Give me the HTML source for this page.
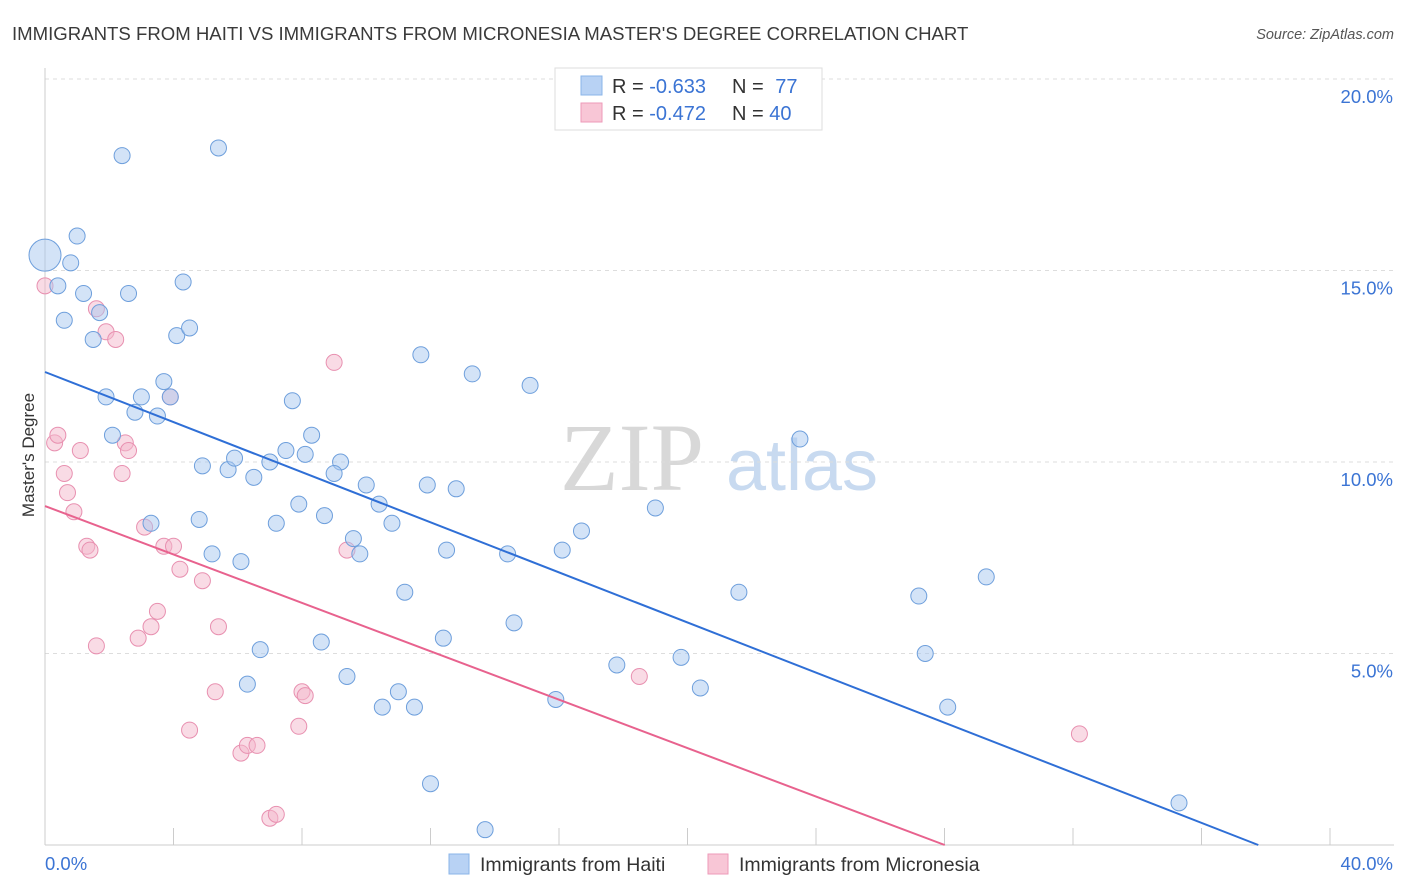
<!DOCTYPE html>
<html><head><meta charset="utf-8">
<style>
body{margin:0;background:#fff;font-family:"Liberation Sans",sans-serif;}
svg{display:block}
</style></head>
<body>
<svg id="chart" width="1406" height="892" xmlns="http://www.w3.org/2000/svg">
<text x="12" y="40" font-size="18.6" fill="#3a3a3a">IMMIGRANTS FROM HAITI VS IMMIGRANTS FROM MICRONESIA MASTER'S DEGREE CORRELATION CHART</text>
<text x="1394" y="39" font-size="14.5" fill="#555" font-style="italic" text-anchor="end">Source: ZipAtlas.com</text>
<g>
<text x="632" y="490" font-size="96" fill="#d8d8d8" font-family="Liberation Serif,serif" text-anchor="middle">ZIP</text>
<text x="802" y="490" font-size="72" fill="#c8daf0" text-anchor="middle">atlas</text>
</g>
<g id="grid"></g>
<g id="axes"></g>
<g id="points"></g>
<g id="lines"></g>
<text transform="translate(34,455) rotate(-90)" font-size="17" fill="#333" text-anchor="middle">Master's Degree</text>
<g>
<rect x="555" y="68" width="267" height="62" fill="#fff" stroke="#ddd"/>
<rect x="581" y="76" width="21" height="19" fill="#b8d2f4" stroke="#8ab4e8"/>
<rect x="581" y="103" width="21" height="19" fill="#f8c6d6" stroke="#ee9ab8"/>
<text x="612" y="93" font-size="20" fill="#333">R = <tspan fill="#3b74d4">-0.633</tspan></text>
<text x="732" y="93" font-size="20" fill="#333">N = <tspan fill="#3b74d4" dx="6">77</tspan></text>
<text x="612" y="120" font-size="20" fill="#333">R = <tspan fill="#3b74d4">-0.472</tspan></text>
<text x="732" y="120" font-size="20" fill="#333">N = <tspan fill="#3b74d4">40</tspan></text>
</g>
<g>
<rect x="449" y="854" width="20" height="20" fill="#b8d2f4" stroke="#8ab4e8"/>
<text x="480" y="871" font-size="19.5" fill="#333">Immigrants from Haiti</text>
<rect x="708" y="854" width="20" height="20" fill="#f8c6d6" stroke="#ee9ab8"/>
<text x="739" y="871" font-size="19.5" fill="#333">Immigrants from Micronesia</text>
</g>
</svg>
<script>
const haitiX=[0.0,2.4,5.4,1.0,0.8,0.4,1.2,2.6,4.3,0.6,1.7,1.5,4.1,4.5,3.7,1.9,3.0,3.9,2.8,3.5,2.1,4.9,5.7,5.9,6.5,7.0,7.5,8.1,8.3,7.7,9.2,9.0,10.0,10.4,7.9,8.7,7.2,4.8,3.3,9.6,9.8,10.8,5.2,6.1,11.7,13.3,15.1,11.9,12.8,12.5,14.4,16.1,16.7,19.0,23.5,11.2,14.6,8.6,6.7,12.4,17.8,19.8,21.6,27.2,29.3,27.4,6.3,9.4,11.0,10.5,11.5,15.9,20.4,28.1,12.0,13.7,35.3];
const haitiY=[15.4,18.0,18.2,15.9,15.2,14.6,14.4,14.4,14.7,13.7,13.9,13.2,13.3,13.5,12.1,11.7,11.7,11.7,11.3,11.2,10.7,9.9,9.8,10.1,9.6,10.0,10.3,10.2,10.7,11.6,10.0,9.7,9.4,8.9,8.9,8.6,8.4,8.5,8.4,8.0,7.6,8.4,7.6,7.4,12.8,12.3,12.0,9.4,9.3,7.7,7.6,7.7,8.2,8.8,10.6,6.6,5.8,5.3,5.1,5.4,4.7,4.9,6.6,6.5,7.0,5.0,4.2,4.4,4.0,3.6,3.6,3.8,4.1,3.6,1.6,0.4,1.1];
const micX=[0.0,0.3,0.4,0.6,0.7,0.9,1.1,1.3,1.4,1.6,1.6,1.9,2.2,2.5,2.6,2.4,3.1,3.3,2.9,3.5,3.7,4.0,4.2,3.9,4.9,5.4,5.3,4.5,6.1,6.3,6.6,7.0,7.2,7.9,8.0,8.1,9.0,9.4,18.5,32.2];
const micY=[14.6,10.5,10.7,9.7,9.2,8.7,10.3,7.8,7.7,5.2,14.0,13.4,13.2,10.5,10.3,9.7,8.3,5.7,5.4,6.1,7.8,7.8,7.2,11.7,6.9,5.7,4.0,3.0,2.4,2.6,2.6,0.7,0.8,3.1,4.0,3.9,12.6,7.7,4.4,2.9];
const trendIntercept=[12.35,8.85];
const trendSlope=[-0.327,-0.316];
const yTicks=[5,10,15,20];
const xTickLabels=["0.0%","40.0%"];

const NS="http://www.w3.org/2000/svg";
const X0=45,X1=1330,Y0=845,Y20=79;
const sx=v=>X0+(X1-X0)*v/40;
const sy=v=>Y0-(Y0-Y20)*v/20;
function mk(tag,attrs,parent){const e=document.createElementNS(NS,tag);for(const k in attrs)e.setAttribute(k,attrs[k]);parent.appendChild(e);return e;}
const grid=document.getElementById('grid'),axes=document.getElementById('axes'),pts=document.getElementById('points'),lines=document.getElementById('lines');
yTicks.forEach(t=>{
 const l=mk('line',{x1:X0,x2:1394,y1:sy(t),y2:sy(t),stroke:'#ddd','stroke-dasharray':'4,4'},grid);
 
 
 const tx=mk('text',{x:1393,y:sy(t)+24,'font-size':18.5,fill:'#3b74d4','text-anchor':'end'},axes);
 tx.textContent=t.toFixed(1)+'%';
 
 
});
const ya=mk('line',{x1:X0,x2:X0,y1:68,y2:Y0,stroke:'#ccc'},axes);


const xa=mk('line',{x1:X0,x2:1394,y1:Y0,y2:Y0,stroke:'#ccc'},axes);


for(let i=1;i<=10;i++){
 const tk=mk('line',{x1:sx(i*4),x2:sx(i*4),y1:828,y2:Y0,stroke:'#ccc'},axes);
 
 
}
const xl0=mk('text',{x:45,y:870,'font-size':18.5,fill:'#3b74d4'},axes);xl0.textContent=xTickLabels[0];


const xl1=mk('text',{x:1393,y:870,'font-size':18.5,fill:'#3b74d4','text-anchor':'end'},axes);xl1.textContent=xTickLabels[1];



function drawPts(xs,ys,fill,stroke,name){
 xs.forEach((x,i)=>{
  const r=(name==='haiti'&&i===0)?16:8;
  const c=mk('circle',{cx:sx(x),cy:sy(ys[i]),r:r,fill:fill,'fill-opacity':0.5,stroke:stroke,'stroke-width':1},pts);
  
  
 });
}
drawPts(micX,micY,'#f4b8cc','#e890b0','micronesia');
drawPts(haitiX,haitiY,'#a8c8f0','#6e9fdc','haiti');
const cols=['#2f6fd6','#e8628e'],names=['trend-line-haiti','trend-line-micronesia'];
trendIntercept.forEach((b,i)=>{
 const m=trendSlope[i];const xEnd=-b/m;
 const l=mk('line',{x1:sx(0),y1:sy(b),x2:sx(xEnd),y2:sy(0),stroke:cols[i],'stroke-width':2},lines);
 
 
});
</script>
</body></html>
